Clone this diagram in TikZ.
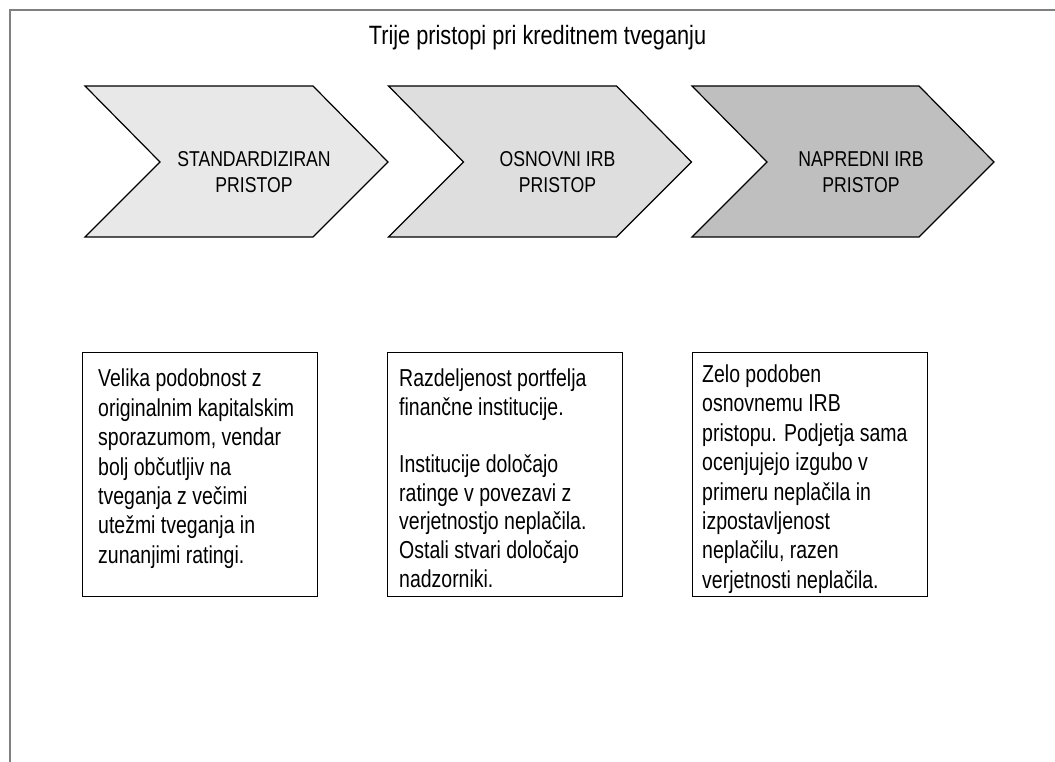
\documentclass[tikz,border=0pt]{standalone}
\usepackage{fontspec}
\setmainfont[FakeStretch=0.82]{Liberation Sans}
\newfontfamily\narrowfont[FakeStretch=0.795]{Liberation Sans}
\begin{document}
\begin{tikzpicture}[x=1pt,y=-1pt,
  frame/.style={draw=black!50,line width=2pt},
  chevron/.style={draw=black,line width=1.2pt,line join=miter},
  chevtext/.style={anchor=north,inner sep=0pt,align=center,
    font=\fontsize{21.5}{26}\selectfont},
  txtbox/.style={draw=black,line width=0.9pt},
  boxtext/.style={anchor=north west,inner sep=0pt,align=left,
    font=\narrowfont\fontsize{24.5}{29.4}\selectfont}]
\useasboundingbox (0,0) rectangle (1055,762);

% outer frame (top and left edges only)
\coordinate (fTL) at (10,10.5);
\coordinate (fTR) at (1055,10.5);
\coordinate (fBL) at (10,762);
\draw[frame] (fTR) -- (fTL) -- (fBL);

% title
\node[anchor=base,inner sep=0pt,font=\fontsize{26.5}{30}\selectfont] (title) at (537.5,45)
  {Trije pristopi pri kreditnem tveganju};

% three chevrons
\filldraw[chevron,fill=black!9]  (85,86) -- (313,86) -- (388,162) -- (313,237) -- (85,237) -- (160,162) -- cycle;
\filldraw[chevron,fill=black!13] (388.5,86) -- (616.5,86) -- (691.5,162) -- (616.5,237) -- (388.5,237) -- (463.5,162) -- cycle;
\filldraw[chevron,fill=black!25] (692,86) -- (919,86) -- (994,162) -- (919,237) -- (692,237) -- (767,162) -- cycle;

\node[chevtext] (c1) at (254,151.5) {STANDARDIZIRAN\\PRISTOP};
\node[chevtext] (c2) at (557.5,151.5) {OSNOVNI IRB\\PRISTOP};
\node[chevtext] (c3) at (861,151.5) {NAPREDNI IRB\\PRISTOP};

% description boxes
\draw[txtbox] (82,352) rectangle (317,596);
\draw[txtbox] (387,352) rectangle (622,596);
\draw[txtbox] (692,352) rectangle (927,596);

\node[boxtext] (t1) at (98,369) {Velika podobnost z\\originalnim kapitalskim\\sporazumom, vendar\\bolj občutljiv na\\tveganja z večimi\\utežmi tveganja in\\zunanjimi ratingi.};
\node[boxtext,font=\narrowfont\fontsize{24.5}{28.6}\selectfont] (t2) at (399,369) {Razdeljenost portfelja\\finančne institucije.\\[28.6pt]Institucije določajo\\ratinge v povezavi z\\verjetnostjo neplačila.\\Ostali stvari določajo\\nadzorniki.};
\node[boxtext] (t3) at (702,364.5) {Zelo podoben\\osnovnemu IRB\\pristopu. Podjetja sama\\ocenjujejo izgubo v\\primeru neplačila in\\izpostavljenost\\neplačilu, razen\\verjetnosti neplačila.};
\end{tikzpicture}
\end{document}
